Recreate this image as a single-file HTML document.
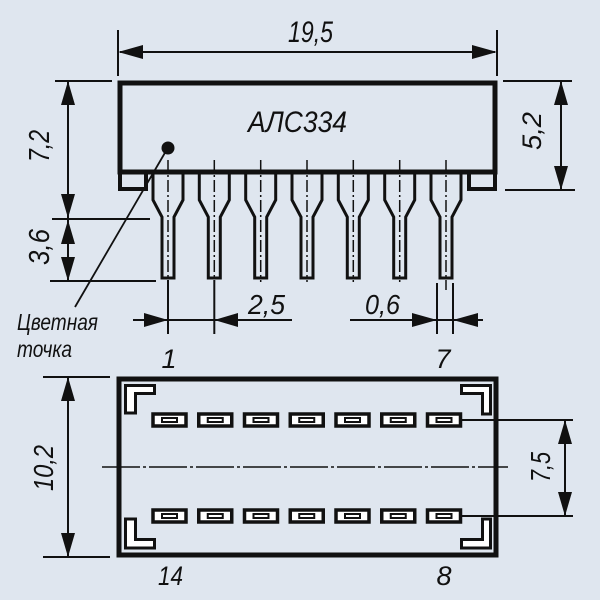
<!DOCTYPE html>
<html><head><meta charset="utf-8"><style>
html,body{margin:0;padding:0;background:#dfe6ef;}
svg{display:block;}
text{font-family:"Liberation Sans","DejaVu Sans",sans-serif;font-style:italic;fill:#111;}
</style></head><body>
<svg width="600" height="600" viewBox="0 0 600 600" xmlns="http://www.w3.org/2000/svg">
<rect width="600" height="600" fill="#dfe6ef"/>
<g stroke="#111" fill="none" stroke-width="2">
<!-- 19,5 dimension -->
<line x1="118" y1="30" x2="118" y2="76"/>
<line x1="497" y1="30" x2="497" y2="76"/>
<line x1="120" y1="52" x2="495" y2="52"/>
<!-- 7,2 / 3,6 -->
<line x1="55" y1="81" x2="112" y2="81"/>
<line x1="52" y1="219" x2="150" y2="219"/>
<line x1="50" y1="281" x2="156" y2="281"/>
<line x1="68" y1="81" x2="68" y2="281"/>
<!-- 5,2 -->
<line x1="503" y1="81" x2="572" y2="81"/>
<line x1="505" y1="190" x2="575" y2="190"/>
<line x1="561" y1="81" x2="561" y2="190"/>
<!-- 2,5 -->
<line x1="133" y1="320" x2="292" y2="320"/>
<line x1="168" y1="280" x2="168" y2="334"/>
<line x1="214.3" y1="280" x2="214.3" y2="334"/>
<!-- 0,6 -->
<line x1="350" y1="320" x2="483" y2="320"/>
<line x1="437" y1="283" x2="437" y2="334"/>
<line x1="453" y1="283" x2="453" y2="334"/>
<!-- 10,2 -->
<line x1="43" y1="377" x2="110" y2="377"/>
<line x1="43" y1="557" x2="110" y2="557"/>
<line x1="68" y1="377" x2="68" y2="557"/>
<!-- 7,5 -->
<line x1="462" y1="420" x2="573" y2="420"/>
<line x1="462" y1="516" x2="573" y2="516"/>
<line x1="565" y1="420" x2="565" y2="516"/>
<!-- leader -->
<line x1="166" y1="151" x2="75" y2="307" stroke-width="1.8"/>
</g>
<!-- arrowheads -->
<g fill="#111">
<polygon points="118,52 143,45 143,59"/>
<polygon points="497,52 472,45 472,59"/>
<polygon points="68,81 61,105 75,105"/>
<polygon points="68,218 61,194 75,194"/>
<polygon points="68,220 61,244 75,244"/>
<polygon points="68,281 61,257 75,257"/>
<polygon points="561,81 554,105 568,105"/>
<polygon points="561,190 554,166 568,166"/>
<polygon points="168,320 144,313 144,327"/>
<polygon points="214.3,320 238,313 238,327"/>
<polygon points="437,320 412,313 412,327"/>
<polygon points="453,320 478,313 478,327"/>
<polygon points="68,377 61,401 75,401"/>
<polygon points="68,557 61,533 75,533"/>
<polygon points="565,420 558,444 572,444"/>
<polygon points="565,516 558,492 572,492"/>
</g>
<!-- body top view -->
<g stroke="#111" fill="none">
<rect x="120" y="83" width="375" height="89" stroke-width="5"/>
<rect x="120" y="172" width="26" height="17" stroke-width="4"/>
<rect x="469" y="172" width="26" height="17" stroke-width="4"/>
</g>
<circle cx="168" cy="148" r="6.5" fill="#111"/>
<!-- pins -->
<g stroke="#111" fill="none" stroke-width="3" stroke-linejoin="miter">
<path d="M153,174 V200 L162,217 V278 H174 V217 L183,200 V174"/>
<path d="M199.3,174 V200 L208.3,217 V278 H220.3 V217 L229.3,200 V174"/>
<path d="M245.7,174 V200 L254.7,217 V278 H266.7 V217 L275.7,200 V174"/>
<path d="M292,174 V200 L301,217 V278 H313 V217 L322,200 V174"/>
<path d="M338.3,174 V200 L347.3,217 V278 H359.3 V217 L368.3,200 V174"/>
<path d="M384.7,174 V200 L393.7,217 V278 H405.7 V217 L414.7,200 V174"/>
<path d="M431,174 V200 L440,217 V278 H452 V217 L461,200 V174"/>
</g>
<g stroke="#111" stroke-width="1.5" stroke-dasharray="12,3,2,3">
<line x1="168" y1="160" x2="168" y2="282"/>
<line x1="214.3" y1="160" x2="214.3" y2="282"/>
<line x1="260.7" y1="160" x2="260.7" y2="282"/>
<line x1="307" y1="160" x2="307" y2="282"/>
<line x1="353.3" y1="160" x2="353.3" y2="282"/>
<line x1="399.7" y1="160" x2="399.7" y2="282"/>
<line x1="446" y1="160" x2="446" y2="290"/>
</g>
<!-- bottom view -->
<rect x="119" y="379" width="377" height="176" stroke="#111" stroke-width="5" fill="none"/>
<line x1="102" y1="467" x2="508" y2="467" stroke="#111" stroke-width="1.5" stroke-dasharray="38,3,3,3"/>
<g stroke="#111" stroke-width="3" fill="#fff">
<polygon points="125.5,385.5 154.5,385.5 154.5,393.5 135.5,393.5 135.5,413 125.5,413"/>
<polygon points="125.5,548 154.5,548 154.5,539.5 135.5,539.5 135.5,519 125.5,519"/>
<polygon points="490.5,385.5 461.5,385.5 461.5,393.5 482.5,393.5 482.5,414 490.5,414"/>
<polygon points="490.5,548 461.5,548 461.5,539.5 482.5,539.5 482.5,519 490.5,519"/>
</g>
<g stroke="#111" fill="#fff">
<g stroke-width="3.5">
<rect x="153" y="414" width="33" height="12"/>
<rect x="198.75" y="414" width="33" height="12"/>
<rect x="244.5" y="414" width="33" height="12"/>
<rect x="290.25" y="414" width="33" height="12"/>
<rect x="336" y="414" width="33" height="12"/>
<rect x="381.75" y="414" width="33" height="12"/>
<rect x="427.5" y="414" width="33" height="12"/>
<rect x="153" y="510" width="33" height="12"/>
<rect x="198.75" y="510" width="33" height="12"/>
<rect x="244.5" y="510" width="33" height="12"/>
<rect x="290.25" y="510" width="33" height="12"/>
<rect x="336" y="510" width="33" height="12"/>
<rect x="381.75" y="510" width="33" height="12"/>
<rect x="427.5" y="510" width="33" height="12"/>
</g>
<g stroke-width="2">
<rect x="162" y="418" width="15" height="4"/>
<rect x="207.75" y="418" width="15" height="4"/>
<rect x="253.5" y="418" width="15" height="4"/>
<rect x="299.25" y="418" width="15" height="4"/>
<rect x="345" y="418" width="15" height="4"/>
<rect x="390.75" y="418" width="15" height="4"/>
<rect x="436.5" y="418" width="15" height="4"/>
<rect x="162" y="514" width="15" height="4"/>
<rect x="207.75" y="514" width="15" height="4"/>
<rect x="253.5" y="514" width="15" height="4"/>
<rect x="299.25" y="514" width="15" height="4"/>
<rect x="345" y="514" width="15" height="4"/>
<rect x="390.75" y="514" width="15" height="4"/>
<rect x="436.5" y="514" width="15" height="4"/>
</g>
</g>
<!-- texts -->
<text x="288" y="42" font-size="30" textLength="45" lengthAdjust="spacingAndGlyphs">19,5</text>
<text x="248" y="132" font-size="30" textLength="99" lengthAdjust="spacingAndGlyphs">АЛС334</text>
<text transform="translate(49,146) rotate(-90)" font-size="29" text-anchor="middle" textLength="32" lengthAdjust="spacingAndGlyphs">7,2</text>
<text transform="translate(49,247) rotate(-90)" font-size="29" text-anchor="middle" textLength="36" lengthAdjust="spacingAndGlyphs">3,6</text>
<text transform="translate(541,131) rotate(-90)" font-size="27" text-anchor="middle" textLength="38" lengthAdjust="spacingAndGlyphs">5,2</text>
<text x="248" y="314" font-size="28" textLength="37" lengthAdjust="spacingAndGlyphs">2,5</text>
<text x="365" y="314" font-size="28" textLength="35" lengthAdjust="spacingAndGlyphs">0,6</text>
<text x="17" y="330" font-size="23" textLength="81" lengthAdjust="spacingAndGlyphs">Цветная</text>
<text x="17" y="357" font-size="23" textLength="55" lengthAdjust="spacingAndGlyphs">точка</text>
<text x="169" y="368" font-size="27" text-anchor="middle">1</text>
<text x="443" y="368" font-size="27" text-anchor="middle">7</text>
<text transform="translate(53,468) rotate(-90)" font-size="28" text-anchor="middle" textLength="46" lengthAdjust="spacingAndGlyphs">10,2</text>
<text transform="translate(550,467) rotate(-90)" font-size="28" text-anchor="middle" textLength="30" lengthAdjust="spacingAndGlyphs">7,5</text>
<text x="158" y="585" font-size="27" textLength="25" lengthAdjust="spacingAndGlyphs">14</text>
<text x="444" y="585" font-size="27" text-anchor="middle">8</text>
</svg>
</body></html>
